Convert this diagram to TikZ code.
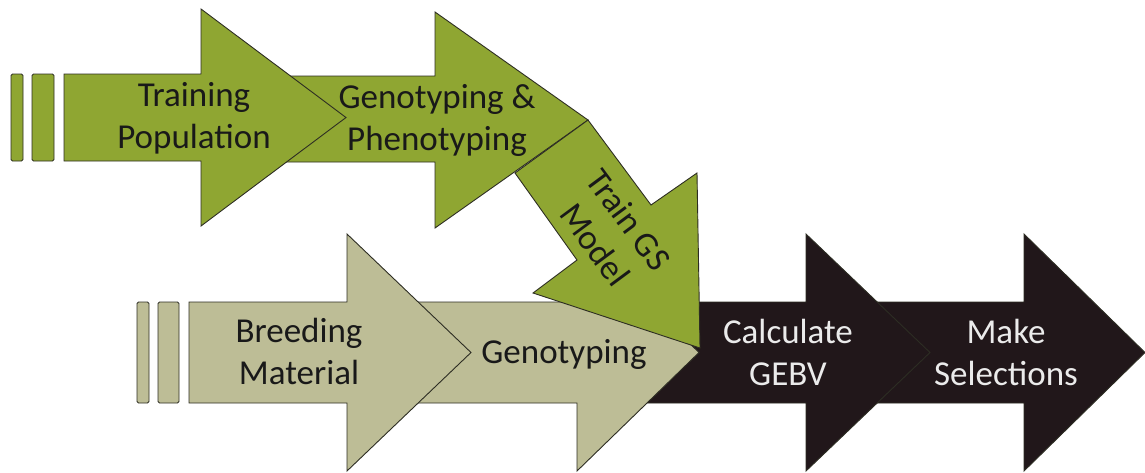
\documentclass[tikz,border=0pt]{standalone}
\usepackage{fontspec}
\setmainfont{Carlito}
\definecolor{gsGreen}{RGB}{143,166,50}
\definecolor{gsBeige}{RGB}{189,189,150}
\definecolor{gsBlack}{RGB}{33,23,26}
\definecolor{gsLine}{RGB}{45,45,35}

\begin{document}
\begin{tikzpicture}[x=1pt,y=-1pt]
  \tikzstyle{trainstep} = [draw=gsLine, fill=gsGreen, line width=0.9pt]
  \tikzstyle{breedstep} = [draw=gsLine, fill=gsBeige, line width=0.9pt]
  \tikzstyle{selstep} = [draw=gsLine, fill=gsBlack, line width=0.9pt]
  \tikzstyle{bar} = [rounded corners=1.5pt]
  \tikzstyle{steptext} = [align=center, font=\fontsize{35}{42}\selectfont, text=black!90]
  \tikzstyle{seltext} = [steptext, text=white!92!black]

  \useasboundingbox (0,0) rectangle (1145,472);

  % lower row, back to front
  \draw[selstep] (850,302) -- (1024,302) -- (1024,234) -- (1145,352.5) -- (1024,471) -- (1024,403) -- (850,403) -- cycle;
  \draw[selstep] (620,302) -- (806,302) -- (806,234) -- (930,352.5) -- (806,471) -- (806,403) -- (620,403) -- cycle;
  \draw[breedstep] (400,302) -- (577,302) -- (577,234) -- (699,352.5) -- (577,471) -- (577,403) -- (400,403) -- cycle;
  \draw[breedstep] (189,302) -- (347,302) -- (347,234) -- (471,352.5) -- (347,471) -- (347,403) -- (189,403) -- cycle;
  \draw[breedstep, bar] (137,302) rectangle (149,403);
  \draw[breedstep, bar] (158,302) rectangle (179,403);

  % upper row
  \draw[trainstep] (250,76) -- (435,76) -- (435,12) -- (588,120) -- (435,228) -- (435,162) -- (250,162) -- cycle;
  \draw[trainstep] (64,74) -- (201,74) -- (201,9) -- (346,117.5) -- (201,226) -- (201,161) -- (64,161) -- cycle;
  \draw[trainstep, bar] (11,74) rectangle (23,161);
  \draw[trainstep, bar] (32,74) rectangle (54,161);

  % model arrow, bent down into the lower row
  \draw[trainstep] (515,173) -- (588,120) -- (651,205) -- (697,173) -- (700,348) -- (533,293) -- (577,260) -- cycle;

  \node[steptext] (train) at (194,118) {Training\\Population};
  \node[steptext] (phen) at (437,120) {Genotyping \&\\Phenotyping};
  \node[steptext, rotate=-53.5] (model) at (612,232) {Train GS\\Model};
  \node[steptext] (breed) at (299,351) {Breeding\\Material};
  \node[steptext] (geno) at (564,354) {Genotyping};
  \node[seltext] (gebv) at (788,352) {Calculate\\GEBV};
  \node[seltext] (select) at (1006,352) {Make\\Selections};
\end{tikzpicture}
\end{document}
